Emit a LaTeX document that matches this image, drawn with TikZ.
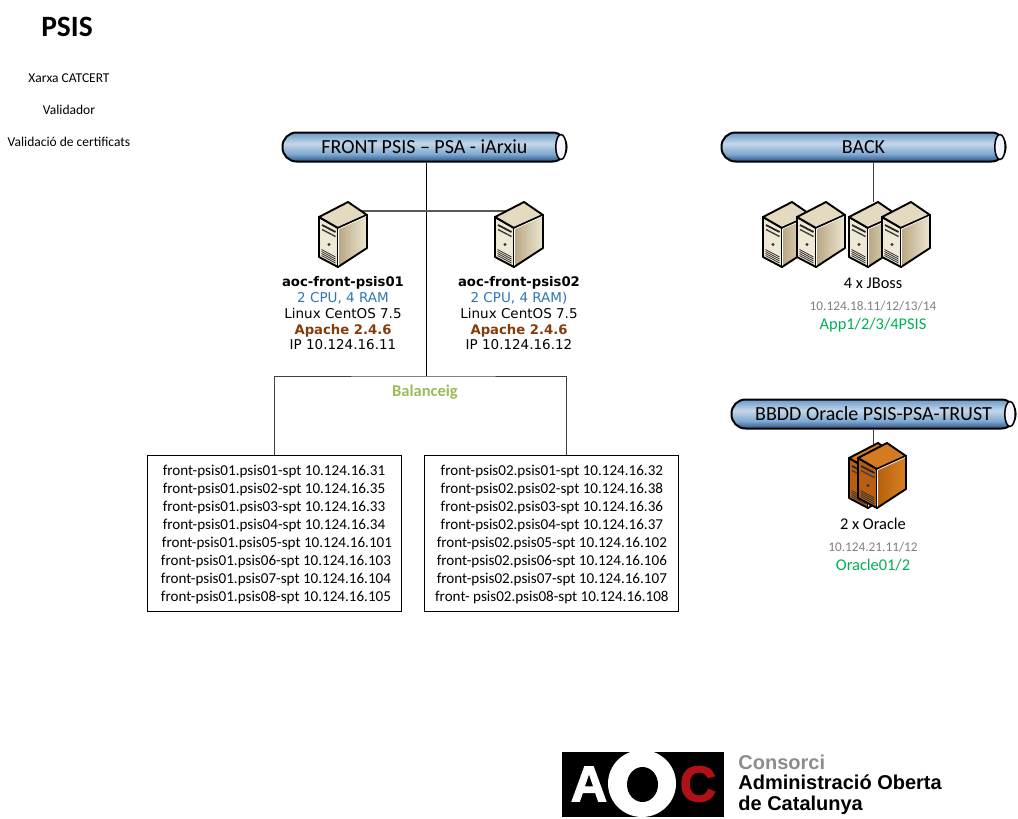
\documentclass[tikz,border=0pt]{standalone}
\usepackage{fontspec}
\setmainfont{Carlito}
\newfontfamily\verdanafont{DejaVu Sans}
\newfontfamily\logofont{Liberation Sans}
\newfontfamily\logoheavy[BoldFeatures={FakeBold=2.5}]{Liberation Sans}
\usetikzlibrary{positioning,shapes.geometric}
\definecolor{cpublue}{HTML}{2E75B6}
\definecolor{apachebrown}{HTML}{843C0C}
\definecolor{balanceolive}{HTML}{9BBB59}
\definecolor{ipgray}{HTML}{808080}
\definecolor{hostgreen}{HTML}{00B050}
\definecolor{aocred}{HTML}{B01116}
\definecolor{srvside}{HTML}{EFE8D4}
\definecolor{srvtop}{HTML}{E3DAC0}
\definecolor{srvtan}{HTML}{B8A682}
\definecolor{srvpale}{HTML}{EDE6D2}
\definecolor{oraside}{HTML}{B85F14}
\definecolor{oratop}{HTML}{D47A20}
\definecolor{oradark}{HTML}{B5600F}
\definecolor{oralight}{HTML}{D98020}
\pgfdeclareverticalshading{pipeshade}{100bp}{rgb(0bp)=(.16,.33,.52); rgb(25bp)=(.16,.33,.52); rgb(38bp)=(.50,.66,.82); rgb(56bp)=(.77,.84,.91); rgb(75bp)=(.42,.60,.79); rgb(100bp)=(.42,.60,.79)}
\tikzset{
  pics/server/.style n args={4}{code={
    \draw[line width=1.9pt,line join=round,fill=#1] (-24,-17.5) -- (-5,-6.5) -- (-5,32.5) -- (-24,22.5) -- cycle;
    \draw[line width=1.9pt,line join=round,fill=#2] (-24,-17.5) -- (5,-32.5) -- (24,-19.5) -- (-5,-6.5) -- cycle;
    \draw[line width=1.9pt,line join=round,left color=#3,right color=#4] (-5,-6.5) -- (24,-19.5) -- (24,13.5) -- (-5,32.5) -- cycle;
    \draw[white,line width=.7pt] (-4.5,31) -- (-4.5,-5.5) -- (23,-18);
    \draw[black!85,line width=1.8pt] (-21,-9.5) -- (-7.5,-2.5);
    \draw[black!75,line width=1.4pt] (-21,-5) -- (-7.5,2);
    \fill[black!80] (-14,10) circle (1.7);
    \foreach \d in {0,2,4,6}
      \draw[black!80,line width=.8pt] (-21.5,15+\d) -- (-7.5,22.5+\d);
  }}
}
\begin{document}
\begin{tikzpicture}[x=1pt,y=-1pt]
    \useasboundingbox (0,0) rectangle (1018,819);

    % Styles
    \tikzstyle{pipe} = [rectangle, rounded corners=14pt, draw=black, line width=2pt,
    shading=pipeshade, minimum width=284pt, minimum height=29pt, inner sep=0pt,
    font=\fontsize{20}{22}\selectfont]
    \tikzstyle{pipeend} = [ellipse, draw=black, line width=1.5pt, fill=blue!4,
    minimum width=10.5pt, minimum height=25pt, inner sep=0pt]
    \tikzstyle{srvslot} = [rectangle, minimum width=48pt, minimum height=65pt, inner sep=0pt]
    \tikzstyle{hostinfo} = [align=center, inner sep=0pt,
    font=\verdanafont\fontsize{13.5}{15.75}\selectfont]
    \tikzstyle{farminfo} = [align=center, inner sep=0pt,
    font=\fontsize{16.4}{18.5}\selectfont]
    \tikzstyle{aliasbox} = [rectangle, draw=black, line width=.9pt, inner sep=0pt,
    minimum width=254pt, minimum height=156pt, align=center,
    font=\fontsize{15.1}{18}\selectfont]
    \tikzstyle{sidelabel} = [inner sep=0pt, font=\fontsize{13.5}{15}\selectfont]
    \tikzstyle{link} = [draw=black!75, line width=1pt]

    % Nodes
    \node (title) at (67,27) [inner sep=0pt, font=\bfseries\fontsize{29.5}{31}\selectfont] {PSIS};
    \node (catcert) at (69,78) [sidelabel] {Xarxa CATCERT};
    \node (validador) at (69,110) [sidelabel] {Validador};
    \node (validacio) at (69,142) [sidelabel] {Validació de certificats};

    \node (front) at (424.5,147) [pipe] {FRONT PSIS – PSA - iArxiu};
    \node (back) at (863.5,147) [pipe] {BACK};
    \node (bbdd) at (873.5,414) [pipe] {BBDD Oracle PSIS-PSA-TRUST};
    \foreach \p in {front,back,bbdd}
      \node (\p end) at ([xshift=-6.5pt]\p.east) [pipeend] {};

    \node (srvA) at (343,234.5) [srvslot] {};
    \node (srvB) at (519,234.5) [srvslot] {};
    \node (jboss1) at (787,234.5) [srvslot] {};
    \node (jboss2) at (821,234.5) [srvslot] {};
    \node (jboss3) at (873,234.5) [srvslot] {};
    \node (jboss4) at (906,234.5) [srvslot] {};
    \node (ora1) at (873,475.5) [srvslot] {};
    \node (ora2) at (882,475.5) [srvslot] {};

    \node (infoA) [hostinfo, below=9.5pt of srvA]
    {{\fontsize{13.2}{15.75}\selectfont\textbf{aoc-front-psis01}}\\ \textcolor{cpublue}{2 CPU, 4 RAM}\\ Linux CentOS 7.5\\
    {\fontsize{13.2}{15.75}\selectfont\textcolor{apachebrown}{\textbf{Apache 2.4.6}}}\\ IP 10.124.16.11};
    \node (infoB) [hostinfo, below=9.5pt of srvB]
    {{\fontsize{13.2}{15.75}\selectfont\textbf{aoc-front-psis02}}\\ \textcolor{cpublue}{2 CPU, 4 RAM)}\\ Linux CentOS 7.5\\
    {\fontsize{13.2}{15.75}\selectfont\textcolor{apachebrown}{\textbf{Apache 2.4.6}}}\\ IP 10.124.16.12};
    \node (infoJboss) [farminfo, below=11pt of jboss3]
    {4 x JBoss\\[3pt] {\fontsize{13.3}{18}\selectfont\textcolor{ipgray}{10.124.18.11/12/13/14}}\\[1pt]
    \textcolor{hostgreen}{App1/2/3/4PSIS}};
    \node (infoOra) [farminfo, below=10pt of ora1]
    {2 x Oracle\\[3pt] {\fontsize{13.3}{18}\selectfont\textcolor{ipgray}{10.124.21.11/12}}\\[1pt]
    \textcolor{hostgreen}{Oracle01/2}};

    \coordinate (balance) at (426,376);
    \node (balanceig) at (425,392) [inner sep=0pt, text=balanceolive,
    font=\bfseries\fontsize{16.5}{18}\selectfont] {Balanceig};
    \node (boxA) at (274,533) [aliasbox]
    {\rule{0pt}{14pt}front-psis01.psis01-spt 10.124.16.31\\ front-psis01.psis02-spt 10.124.16.35\\
    front-psis01.psis03-spt 10.124.16.33\\ front-psis01.psis04-spt 10.124.16.34\\
    \hspace*{6pt}front-psis01.psis05-spt 10.124.16.101\\ \hspace*{4pt}front-psis01.psis06-spt 10.124.16.103\\
    \hspace*{4pt}front-psis01.psis07-spt 10.124.16.104\\ \hspace*{4pt}front-psis01.psis08-spt 10.124.16.105};
    \node (boxB) [aliasbox, right=23pt of boxA]
    {\rule{0pt}{14pt}front-psis02.psis01-spt 10.124.16.32\\ front-psis02.psis02-spt 10.124.16.38\\
    front-psis02.psis03-spt 10.124.16.36\\ front-psis02.psis04-spt 10.124.16.37\\
    front-psis02.psis05-spt 10.124.16.102\\ front-psis02.psis06-spt 10.124.16.106\\
    front-psis02.psis07-spt 10.124.16.107\\ front- psis02.psis08-spt 10.124.16.108};

    % Logo
    \node (logoBack) at (643,784.5) [rectangle, fill=black, minimum width=162pt, minimum height=65pt, inner sep=0pt] {};
    \node (logoO) at (642,783.5) [ellipse, fill=white, minimum width=68pt, minimum height=67pt, inner sep=0pt] {};
    \node (logoHole) at (642.5,784.5) [ellipse, fill=black, minimum width=31pt, minimum height=35pt, inner sep=0pt] {};
    \node (logoA) at (589,784) [inner sep=0pt, text=white, font=\logoheavy\bfseries\fontsize{50}{50}\selectfont] {A};
    \node (logoC) at (698,784) [inner sep=0pt, text=aocred, font=\logoheavy\bfseries\fontsize{50}{50}\selectfont] {C};
    \node (logoText) [anchor=west, inner sep=0pt, align=left, right=14pt of logoBack,
    font=\logofont\bfseries\fontsize{20}{20.5}\selectfont]
    {\textcolor{black!45}{Consorci}\\ Administració Oberta\\ de Catalunya};

    % Arrows
    \draw[black, line width=1pt] (balance |- front.south) -- (balance);
    \draw[link, line width=1.4pt, draw=black!65] ([yshift=23.5pt]srvA.center) -- ([yshift=23.5pt]srvB.center);
    \draw[link] (boxA.north) |- (balance) -| ([xshift=15pt]boxB.north);
    \draw[link] (jboss3.north |- back.south) -- (jboss3.north);
    \draw[link] (ora1.north |- bbdd.south) -- ([yshift=-10pt]ora1.north);

    % Servers
    \pic at (srvA) {server={srvside}{srvtop}{srvtan}{srvpale}};
    \pic at (srvB) {server={srvside}{srvtop}{srvtan}{srvpale}};
    \foreach \n in {jboss1,jboss2,jboss3,jboss4}
      \pic at (\n) {server={srvside}{srvtop}{srvtan}{srvpale}};
    \foreach \n in {ora1,ora2}
      \pic at (\n) {server={oraside}{oratop}{oradark}{oralight}};
\end{tikzpicture}
\end{document}
